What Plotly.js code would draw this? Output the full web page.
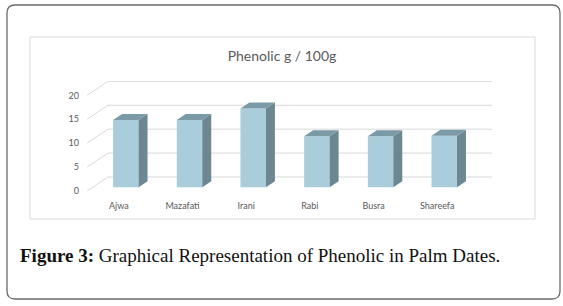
<!DOCTYPE html>
<html>
<head>
<meta charset="utf-8">
<script src="https://cdn.plot.ly/plotly-3.0.1.min.js"></script>
<style>html,body{margin:0;padding:0;background:#fff}#chart{width:563px;height:306px}</style>
</head>
<body>
<div id="chart"></div>
<script>
// ---- data ----
var categories = ["Ajwa", "Mazafati", "Irani", "Rabi", "Busra", "Shareefa"];
var phenolic = [14.1, 14.1, 16.5, 10.7, 10.7, 10.8];
var yTicks = [0, 5, 10, 15, 20];
var chartTitle = "Phenolic g / 100g";
var caption = "<b>Figure 3:</b> Graphical Representation of Phenolic in Palm Dates.";

// ---- geometry (pseudo-3D projection in axis units) ----
var W = 563, H = 306;
var mL = 87, mR = 71, mT = 81, mB = 115;
var xMin = -0.5, xMax = 5.86, yMin = 0, yMax = 23;
var plotW = W - mL - mR, plotH = H - mT - mB;
var WALL_DX = 0.33, WALL_DY = 2.93;     // offset of the back wall
var BAR_SHIFT = 0.11, BAR_BASE = 0.77;  // bar position within the floor depth
var BAR_W = 0.4, BAR_DX = 0.141, BAR_DY = 1.255; // bar width & bar depth

function px2x(p) { return (p - mL) / plotW; }
function px2y(p) { return (H - mB - p) / plotH; }

var traces = [];
var gridColor = "#d9d9d9";
var frontColor = "#a9cddb", sideColor = "#6c8692", topColor = "#7b9aa7";

categories.forEach(function (c, i) {
  var xl = i + BAR_SHIFT - BAR_W / 2, xr = i + BAR_SHIFT + BAR_W / 2;
  var yb = BAR_BASE, yt = BAR_BASE + phenolic[i];
  // side face
  traces.push({
    x: [xr, xr, xr + BAR_DX, xr + BAR_DX, xr], y: [yb, yt, yt + BAR_DY, yb + BAR_DY, yb],
    mode: "lines", fill: "toself", fillcolor: sideColor, line: {width: 0},
    hoverinfo: "skip", showlegend: false
  });
  // top face
  traces.push({
    x: [xl, xr, xr + BAR_DX, xl + BAR_DX, xl], y: [yt, yt, yt + BAR_DY, yt + BAR_DY, yt],
    mode: "lines", fill: "toself", fillcolor: topColor, line: {width: 0},
    hoverinfo: "skip", showlegend: false
  });
});
// front faces
traces.push({
  type: "bar",
  x: categories.map(function (c, i) { return i + BAR_SHIFT; }),
  y: phenolic, base: BAR_BASE, width: BAR_W,
  marker: {color: frontColor, line: {width: 0}},
  hovertext: categories, showlegend: false
});

function roundRect(x0, y0, x1, y1, r) {
  var X = px2x, Y = px2y;
  return "M" + X(x0 + r) + "," + Y(y0) +
    " L" + X(x1 - r) + "," + Y(y0) +
    " Q" + X(x1) + "," + Y(y0) + " " + X(x1) + "," + Y(y0 + r) +
    " L" + X(x1) + "," + Y(y1 - r) +
    " Q" + X(x1) + "," + Y(y1) + " " + X(x1 - r) + "," + Y(y1) +
    " L" + X(x0 + r) + "," + Y(y1) +
    " Q" + X(x0) + "," + Y(y1) + " " + X(x0) + "," + Y(y1 - r) +
    " L" + X(x0) + "," + Y(y0 + r) +
    " Q" + X(x0) + "," + Y(y0) + " " + X(x0 + r) + "," + Y(y0) + " Z";
}

var shapes = [
  {type: "path", xref: "paper", yref: "paper", path: roundRect(7, 5, 560, 299, 8),
   line: {color: "#6b6b6b", width: 1.3}, fillcolor: "rgba(0,0,0,0)", layer: "below"},
  {type: "rect", xref: "paper", yref: "paper",
   x0: px2x(30), x1: px2x(535), y0: px2y(37), y1: px2y(219),
   line: {color: "#d9d9d9", width: 1}, fillcolor: "rgba(0,0,0,0)", layer: "below"}
];
// back-wall gridlines + diagonal side lines, drawn beneath the bars
yTicks.forEach(function (v) {
  shapes.push({type: "path", xref: "x", yref: "y", layer: "below",
    path: "M" + xMin + "," + v + " L" + (xMin + WALL_DX) + "," + (v + WALL_DY) +
          " L" + xMax + "," + (v + WALL_DY),
    line: {color: gridColor, width: 1}});
});

var layout = {
  width: W, height: H,
  margin: {l: mL, r: mR, t: mT, b: mB, pad: 0},
  paper_bgcolor: "#ffffff", plot_bgcolor: "rgba(0,0,0,0)",
  showlegend: false,
  title: {
    text: chartTitle, xref: "container", yref: "container",
    x: 282 / W, y: 1 - 56.5 / H, xanchor: "center", yanchor: "middle",
    font: {family: "Lato, 'Open Sans', sans-serif", size: 14, color: "#595959"}
  },
  xaxis: {
    range: [xMin, xMax], showgrid: false, zeroline: false, showline: false,
    tickvals: categories.map(function (c, i) { return i; }), ticktext: categories,
    ticks: "", ticklabelstandoff: 8,
    tickfont: {family: "Lato, 'Open Sans', sans-serif", size: 9, color: "#595959"},
    fixedrange: true
  },
  yaxis: {
    range: [yMin, yMax], showgrid: false, zeroline: false, showline: false,
    tickvals: yTicks, ticks: "", ticklabelstandoff: 7,
    tickfont: {family: "Lato, 'Open Sans', sans-serif", size: 9, color: "#595959"},
    fixedrange: true
  },
  shapes: shapes,
  annotations: [{
    xref: "paper", yref: "paper", x: px2x(18), y: px2y(255),
    xanchor: "left", yanchor: "middle", showarrow: false, text: caption,
    font: {family: "'Liberation Serif', 'DejaVu Serif', serif", size: 19, color: "#111111"}
  }]
};

Plotly.newPlot("chart", traces, layout, {displayModeBar: false, staticPlot: true});
</script>
</body>
</html>
